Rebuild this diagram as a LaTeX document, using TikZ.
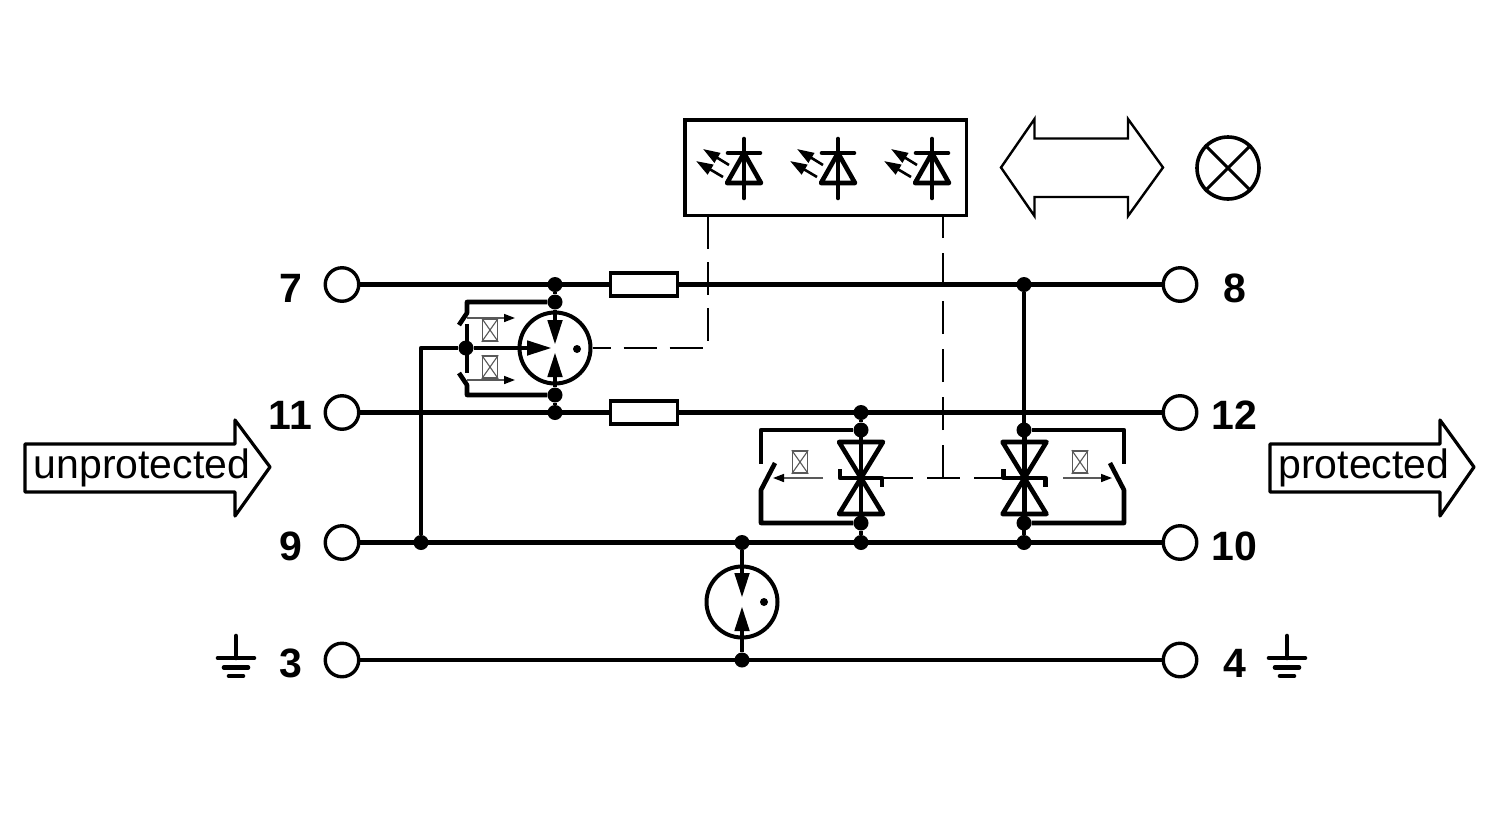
\documentclass[tikz,border=0pt]{standalone}
\usepackage{fontspec}
\setmainfont{Liberation Sans}
\usetikzlibrary{arrows.meta}
\usetikzlibrary{positioning}
\tikzset{
    wire/.style={line width=4.6pt,line join=round},
    fineline/.style={line width=1.6pt,black!65},
    ctrl/.style={line width=2.2pt,dash pattern=on 33pt off 13pt},
    terminal/.style={circle,draw,line width=3.4pt,fill=white,minimum size=33.5pt,inner sep=0pt},
    junction/.style={circle,fill,minimum size=15pt,inner sep=0pt},
    fuse/.style={rectangle,draw,line width=3.6pt,fill=white,minimum width=67pt,minimum height=23pt,inner sep=0pt},
    pin/.style={font=\fontsize{41}{41}\selectfont\bfseries,inner sep=0pt},
    banner/.style={font=\fontsize{41}{41}\selectfont,inner sep=0pt},
    tube/.style={circle,draw,line width=4pt,fill=white,minimum size=71pt,inner sep=0pt},
    relay/.style={rectangle,draw,line width=1.5pt,black!65,minimum width=15pt,minimum height=22pt,inner sep=0pt},
    tip/.style={-{Triangle[length=25pt,width=14pt]}},
    small/.style={-{Triangle[length=11pt,width=8pt,color=black]}},
    glow/.style={-{Triangle[length=17pt,width=11pt]}},
}
\begin{document}
\begin{tikzpicture}[x=1pt,y=-1pt]
    \useasboundingbox (0,0) rectangle (1500,820);
    % terminals
    \node[terminal] (t7) at (342,284.5) {};
    \node[terminal] (t11) at (342,412.5) {};
    \node[terminal] (t9) at (342,542.5) {};
    \node[terminal] (t3) at (342,660) {};
    \node[terminal] (t8) at (1180,284.5) {};
    \node[terminal] (t12) at (1180,412.5) {};
    \node[terminal] (t10) at (1180,542.5) {};
    \node[terminal] (t4) at (1180,660) {};
    \node[pin] at (290.5,288) {7};
    \node[pin] at (290.5,415) {11};
    \node[pin] at (290.5,546) {9};
    \node[pin] at (290.5,663) {3};
    \node[pin] at (1234.5,288) {8};
    \node[pin] at (1234.5,415) {12};
    \node[pin] at (1234.5,546) {10};
    \node[pin] at (1234.5,663) {4};
    % junctions
    \node[junction] (j7) at (555,284.5) {};
    \node[junction] (jA) at (555,302) {};
    \node[junction] (jB) at (555,395) {};
    \node[junction] (j11) at (555,412.5) {};
    \node[junction] (jC) at (466,348) {};
    \node[junction] (j9) at (421,542.5) {};
    \node[junction] (jG) at (742,542.5) {};
    \node[junction] (jE) at (742,660) {};
    \node[junction] (jL) at (861,412.5) {};
    \node[junction] (jLa) at (861,430) {};
    \node[junction] (jLb) at (861,523) {};
    \node[junction] (jLc) at (861,542.5) {};
    \node[junction] (jR) at (1024,284.5) {};
    \node[junction] (jRa) at (1024,430) {};
    \node[junction] (jRb) at (1024,523) {};
    \node[junction] (jRc) at (1024,542.5) {};
    % main lines
    \node[fuse] (f1) at (644,284.5) {};
    \node[fuse] (f2) at (644,412.5) {};
    \draw[wire] (t7) -- (f1) -- (t8);
    \draw[wire] (t11) -- (f2) -- (t12);
    \draw[wire] (t9) -- (t10);
    \draw[wire] (t3) -- (t4);
    \draw[wire] (jC) -| (j9);
    \draw[wire] (j7) -- (jA);
    \draw[wire] (jB) -- (j11);
    \draw[wire] (jL) -- (jLa);
    \draw[wire] (jLb) -- (jLc);
    \draw[wire] (jR) -- (jRc);
    % gas tubes
    \node[tube] (g1) at (555,348) {};
    \draw[wire,tip] (jA) -- (555,345);
    \draw[wire,tip] (jB) -- (555,352);
    \draw[wire,tip] (jC) -- (552,348);
    \fill (577,349) circle (4);
    \node[tube] (g2) at (742,602) {};
    \draw[wire,tip] (jG) -- (742,598);
    \draw[wire,tip] (jE) -- (742,606);
    \fill (764,602) circle (4);
    % remote contacts
    \draw[wire] (jA) -- (467,302) -- (467,313) -- (459,325);
    \draw[wire] (jB) -- (467,395) -- (467,385) -- (459,373);
    \draw[wire] (467,324) -- (467,373);
    \draw[fineline,small] (467,318) -- (515,318);
    \draw[fineline,small] (467,380) -- (515,380);
    \draw[wire] (jLa) -- (761,430) -- (761,464);
    \draw[wire] (775,463) -- (761,490) -- (761,523) -- (jLb);
    \draw[wire] (jRa) -- (1124,430) -- (1124,464);
    \draw[wire] (1110,463) -- (1124,490) -- (1124,523) -- (jRb);
    \draw[fineline,small] (823,478) -- (773,478);
    \draw[fineline,small] (1063,478) -- (1112,478);
    \foreach \name/\px/\py in {r1/490/330,r2/490/367,r3/800/462,r4/1080/462} {
        \node[relay] (\name) at (\px,\py) {};
        \draw[line width=1.1pt,black!65] (\name.north west) -- (\name.south east)
            (\name.north east) -- (\name.south west);
    }
    % suppressor diodes
    \foreach \cx in {861,1024.5} {
        \draw[wire] (\cx-22,442) -- (\cx+22,442) -- (\cx-22,514) -- (\cx+22,514) -- cycle;
        \draw[wire] (\cx,430) -- (\cx,523);
        \draw[wire] (\cx-21,469) -- (\cx-21,478) -- (\cx+21,478) -- (\cx+21,487);
    }
    % signal box
    \node[draw,line width=3.6pt,minimum width=281.5pt,minimum height=95.5pt,inner sep=0pt] (led) at (825.7,167.7) {};
    \foreach \dx in {744,838,932} {
        \draw[wire,line cap=round] (\dx,139) -- (\dx,198);
        \draw[wire,line cap=round] (\dx-16,153) -- (\dx+16,153);
        \draw[wire] (\dx,153) -- (\dx+17,183) -- (\dx-17,183) -- cycle;
        \draw[line width=2.6pt,glow] (\dx-15,165) -- (\dx-41,149);
        \draw[line width=2.6pt,glow] (\dx-21,177) -- (\dx-48,161);
    }
    \coordinate (c1) at (708,348);
    \coordinate (c2) at (943,478);
    \coordinate (c3) at (708,215);
    \coordinate (c4) at (943,215);
    \draw[ctrl,dash phase=15pt] (g1.east) -- (c1) -- (c3);
    \draw[ctrl,dash pattern=on 33pt off 15pt] (c2) -- (c4);
    \draw[ctrl,dash pattern=on 33pt off 14pt] (880,478) -- (1003,478);
    % status lamp and double arrow
    \draw[line width=2.4pt,line join=miter] (1001,167.5) -- (1034.5,119) -- (1034.5,138.5) -- (1128,138.5) -- (1128,119)
        -- (1163,167.5) -- (1128,216) -- (1128,197) -- (1034.5,197) -- (1034.5,216) -- cycle;
    \node[circle,draw,line width=3.6pt,minimum size=62pt,inner sep=0pt] (lamp) at (1228,168) {};
    \draw[line width=3pt] (lamp.north west) -- (lamp.south east) (lamp.north east) -- (lamp.south west);
    % earth
    \foreach \gx in {236,1287} {
        \draw[wire,line cap=round] (\gx,636) -- (\gx,658);
        \draw[wire,line cap=round] (\gx-18,658) -- (\gx+18,658);
        \draw[wire,line cap=round] (\gx-12,667.5) -- (\gx+12,667.5);
        \draw[wire,line cap=round] (\gx-7,676) -- (\gx+7,676);
    }
    % side arrows
    \draw[line width=3.2pt,line join=round] (25,444) -- (235,444) -- (235,420) -- (270,467) -- (235,516) -- (235,492) -- (25,492) -- cycle;
    \node[banner] at (142,468) {unprotected};
    \draw[line width=3.2pt,line join=round] (1270,444) -- (1440,444) -- (1440,420) -- (1474,467) -- (1440,516) -- (1440,492) -- (1270,492) -- cycle;
    \node[banner] at (1364,468) {protected};
\end{tikzpicture}
\end{document}
